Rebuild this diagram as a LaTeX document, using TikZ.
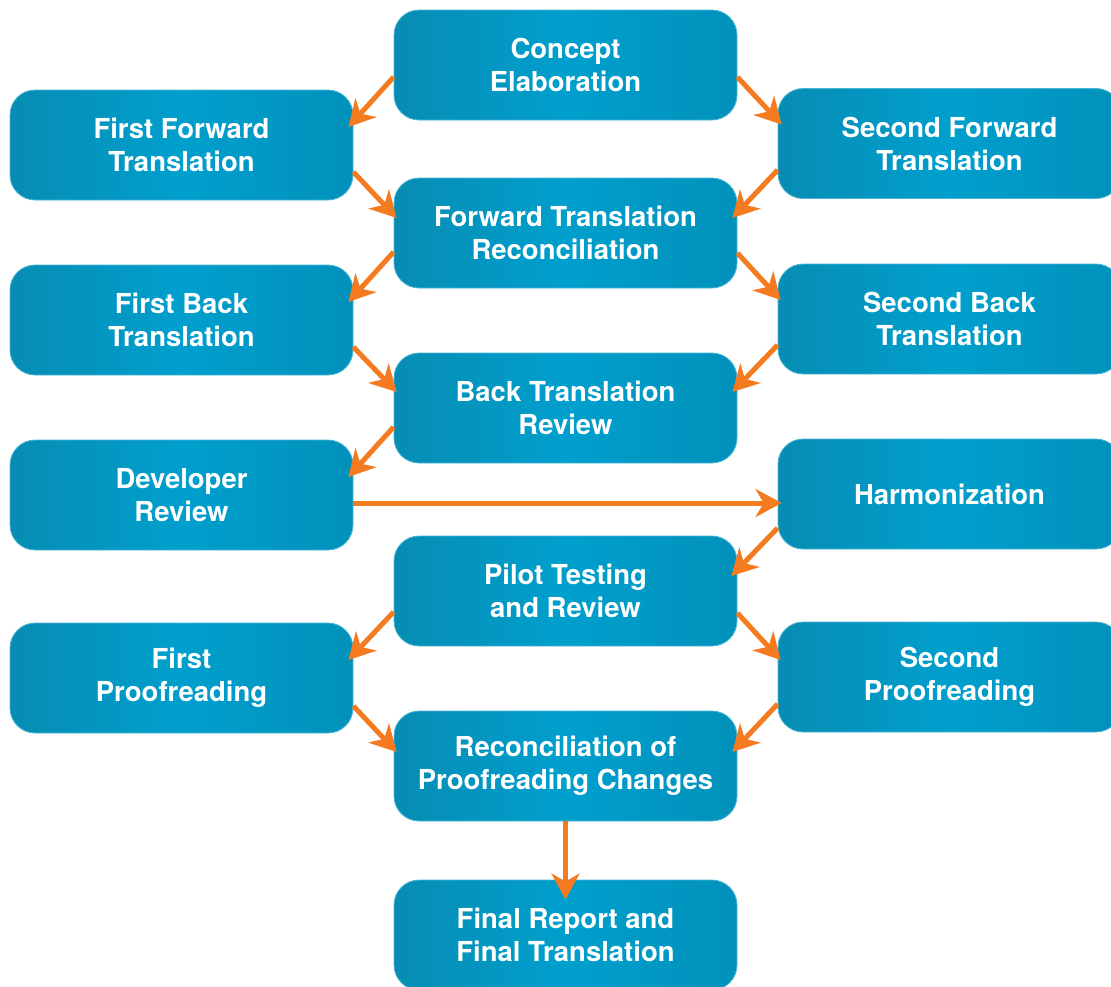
\documentclass[tikz,border=0pt]{standalone}
\usepackage{fontspec}
\setmainfont{TeX Gyre Heros}
\usetikzlibrary{arrows.meta,calc}
\definecolor{boxdark}{HTML}{0C7D9E}
\definecolor{boxlight}{HTML}{009FCD}
\definecolor{boxdarker}{HTML}{05718F}
\definecolor{boxedge}{HTML}{4DB6D6}
\definecolor{flow}{HTML}{F47B20}
\pgfdeclarehorizontalshading{boxshade}{100bp}{color(0bp)=(boxdark); color(25bp)=(boxdark!55!boxlight); color(50bp)=(boxlight); color(75bp)=(boxlight!70!boxdarker); color(100bp)=(boxdarker)}
\tikzset{
  stage/.style={rectangle, rounded corners=25pt, minimum width=343pt, minimum height=110pt,
    inner sep=0pt, align=center, shading=boxshade, draw=boxedge, line width=0.8pt,
    text=white, font=\bfseries\fontsize{27.5}{33}\selectfont},
  flowarrow/.style={draw=flow, line width=5pt, -{Stealth[length=26pt,width=28pt,inset=8pt]}}
}
\begin{document}
\begin{tikzpicture}[x=1pt,y=-1pt]
\useasboundingbox (0,0) rectangle (1111,986);
\clip (0,0) rectangle (1111,986);
% center column
\node[stage] (ce) at (565.5,65) {Concept\\Elaboration};
\node[stage] (ftr) at (565.5,233) {Forward Translation\\Reconciliation};
\node[stage] (btr) at (565.5,408) {Back Translation\\Review};
\node[stage] (pt) at (565.5,591) {Pilot Testing\\and Review};
\node[stage] (rpc) at (565.5,766) {Reconciliation of\\Proofreading Changes};
\node[stage] (fr) at (565.5,935) {Final Report and\\Final Translation};
% left column
\node[stage] (ff) at (181.5,145) {First Forward\\Translation};
\node[stage] (fb) at (181.5,320) {First Back\\Translation};
\node[stage] (dr) at (181.5,495) {Developer\\Review};
\node[stage] (fp) at (181.5,678) {First\\Proofreading};
% right column
\node[stage] (sf) at (949.5,143.5) {Second Forward\\Translation};
\node[stage] (sb) at (949.5,319) {Second Back\\Translation};
\node[stage] (hz) at (949.5,494) {Harmonization};
\node[stage] (sp) at (949.5,677) {Second\\Proofreading};
% arrows
\draw[flowarrow] ($(ce.west)+(0,12)$) -- ($(ff.east)+(-5,-18)$);
\draw[flowarrow] ($(ce.east)+(0,12)$) -- ($(sf.west)+(4,-19)$);
\draw[flowarrow] ($(ff.east)+(0,27)$) -- ($(ftr.west)+(3,-15)$);
\draw[flowarrow] ($(sf.west)+(0,26.5)$) -- ($(ftr.east)+(-5,-15)$);
\draw[flowarrow] ($(ftr.west)+(0,19)$) -- ($(fb.east)+(-5,-18)$);
\draw[flowarrow] ($(ftr.east)+(0,20)$) -- ($(sb.west)+(3,-19)$);
\draw[flowarrow] ($(fb.east)+(0,27)$) -- ($(btr.west)+(3,-16)$);
\draw[flowarrow] ($(sb.west)+(0,26)$) -- ($(btr.east)+(-5,-16)$);
\draw[flowarrow] ($(btr.west)+(0,19)$) -- ($(dr.east)+(-5,-18)$);
\draw[flowarrow] ($(dr.east)+(0,8)$) -- ($(hz.west)+(4,9)$);
\draw[flowarrow] ($(hz.west)+(0,34)$) -- ($(pt.east)+(-6,-15)$);
\draw[flowarrow] ($(pt.west)+(0,21)$) -- ($(fp.east)+(-5,-18)$);
\draw[flowarrow] ($(pt.east)+(0,22)$) -- ($(sp.west)+(3,-17)$);
\draw[flowarrow] ($(fp.east)+(0,28)$) -- ($(rpc.west)+(3,-14)$);
\draw[flowarrow] ($(sp.west)+(0,27)$) -- ($(rpc.east)+(-5,-14)$);
\draw[flowarrow] (rpc.south) -- ($(fr.north)+(0,20)$);
\end{tikzpicture}
\end{document}
